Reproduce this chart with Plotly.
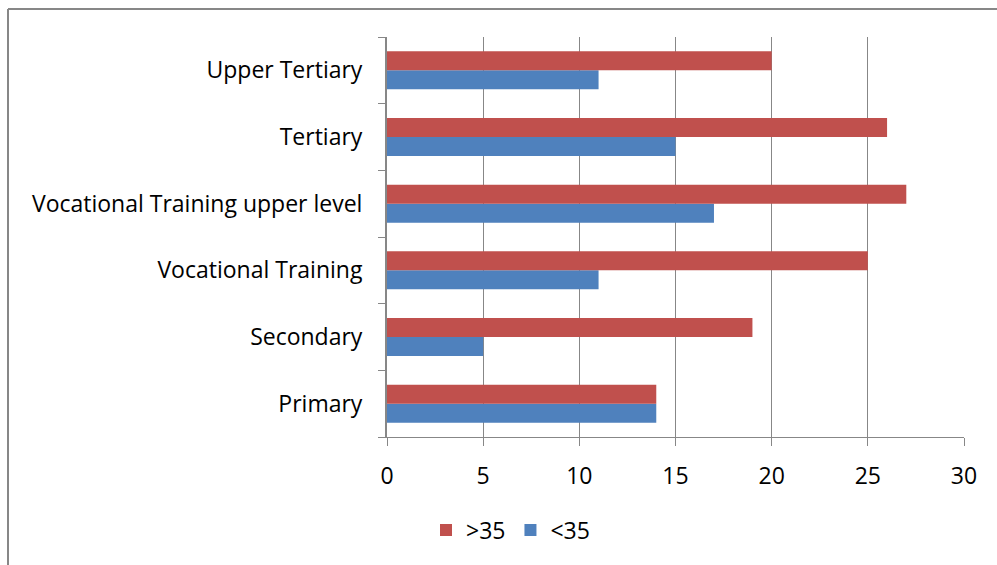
import plotly.graph_objects as go

categories = ["Primary", "Secondary", "Vocational Training",
              "Vocational Training upper level", "Tertiary", "Upper Tertiary"]
under35 = [14, 5, 11, 17, 15, 11]
over35 = [14, 19, 25, 27, 26, 20]
x_ticks = [0, 5, 10, 15, 20, 25, 30]

FONT = "Open Sans"
GRAY = "#878787"

fig = go.Figure()
fig.add_trace(go.Bar(y=categories, x=under35, orientation="h", name="<35",
                     marker=dict(color="#4F81BD", line=dict(width=0))))
fig.add_trace(go.Bar(y=categories, x=over35, orientation="h", name=">35",
                     marker=dict(color="#C0504D", line=dict(width=0))))

L, R, T, B = 387, 33, 37, 128
W, H = 997, 565
pw, ph = W - L - R, H - T - B

fig.update_layout(
    width=W, height=H,
    margin=dict(l=L, r=R, t=T, b=B, pad=0),
    paper_bgcolor="white", plot_bgcolor="white",
    barmode="group", bargap=0.43, bargroupgap=0,
    font=dict(family=FONT, size=23, color="#000000"),
    showlegend=True,
    legend=dict(orientation="h", traceorder="reversed",
                x=(426 - L) / pw, xanchor="left",
                y=-(530 - (T + ph)) / ph, yanchor="middle",
                font=dict(family=FONT, size=23), itemwidth=30,
                bgcolor="rgba(0,0,0,0)"),
    xaxis=dict(range=[0, 30], tickvals=x_ticks, showgrid=True, gridcolor=GRAY,
               gridwidth=1, zeroline=False, showline=True, linecolor=GRAY,
               linewidth=1, ticks="outside", ticklen=8, tickcolor=GRAY,
               ticklabelstandoff=10,
               tickfont=dict(family=FONT, size=23), fixedrange=True),
    yaxis=dict(categoryorder="array", categoryarray=categories,
               showgrid=False, zeroline=False, showline=True, linecolor=GRAY,
               linewidth=2, ticks="outside", ticklen=7, tickcolor=GRAY,
               tickson="boundaries", ticklabelstandoff=18,
               tickfont=dict(family=FONT, size=23), fixedrange=True),
    shapes=[
        dict(type="line", xref="paper", yref="paper",
             x0=(8 - L) / pw, x1=(W + 5 - L) / pw,
             y0=(T + ph - 9) / ph, y1=(T + ph - 9) / ph,
             line=dict(color=GRAY, width=2)),
        dict(type="line", xref="paper", yref="paper",
             x0=(8 - L) / pw, x1=(8 - L) / pw,
             y0=(T + ph - 9) / ph, y1=(T + ph - H - 5) / ph,
             line=dict(color=GRAY, width=2)),
    ],
)

fig.write_html(
    "out.html",
    config={"displayModeBar": False},
    post_script="document.body.style.margin='0';document.body.style.overflow='hidden';",
)
